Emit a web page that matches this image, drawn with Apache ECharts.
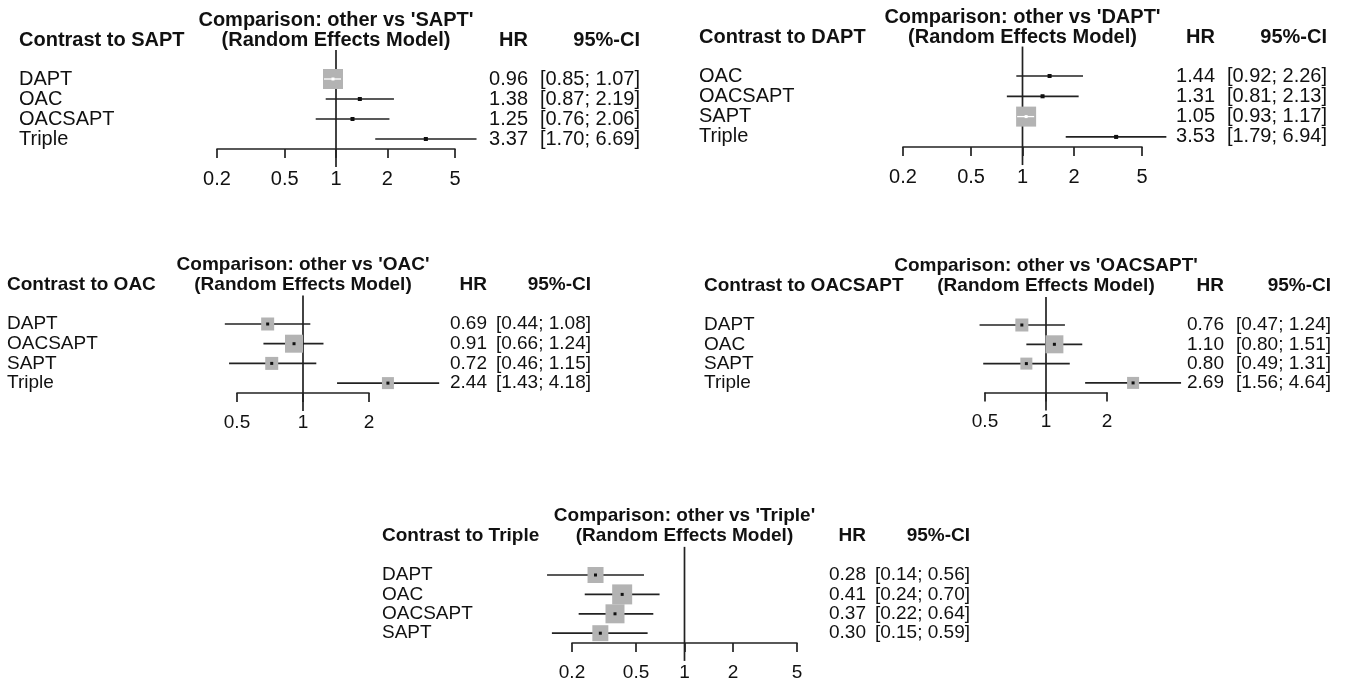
<!DOCTYPE html>
<html>
<head>
<meta charset="utf-8">
<title>Network meta-analysis forest plots</title>
<script src="https://cdn.jsdelivr.net/npm/echarts@6/dist/echarts.min.js"></script>
<style>
  html, body { margin: 0; background: #fff; }
  #chart { width: 1347px; height: 682px; }
</style>
</head>
<body>
<div id="chart"></div>
<script>
// ---- data (HR, 95% CI) per reference treatment ----
var saptNames = ['DAPT', 'OAC', 'OACSAPT', 'Triple'];
var saptHR = [0.96, 1.38, 1.25, 3.37];
var saptLo = [0.85, 0.87, 0.76, 1.70];
var saptHi = [1.07, 2.19, 2.06, 6.69];
var saptBox = [20, 4, 4, 4];

var daptNames = ['OAC', 'OACSAPT', 'SAPT', 'Triple'];
var daptHR = [1.44, 1.31, 1.05, 3.53];
var daptLo = [0.92, 0.81, 0.93, 1.79];
var daptHi = [2.26, 2.13, 1.17, 6.94];
var daptBox = [4, 4, 20, 4];

var oacNames = ['DAPT', 'OACSAPT', 'SAPT', 'Triple'];
var oacHR = [0.69, 0.91, 0.72, 2.44];
var oacLo = [0.44, 0.66, 0.46, 1.43];
var oacHi = [1.08, 1.24, 1.15, 4.18];
var oacBox = [13, 18, 13, 12];

var oacsaptNames = ['DAPT', 'OAC', 'SAPT', 'Triple'];
var oacsaptHR = [0.76, 1.10, 0.80, 2.69];
var oacsaptLo = [0.47, 0.80, 0.49, 1.56];
var oacsaptHi = [1.24, 1.51, 1.31, 4.64];
var oacsaptBox = [13, 18, 12, 12];

var tripleNames = ['DAPT', 'OAC', 'OACSAPT', 'SAPT'];
var tripleHR = [0.28, 0.41, 0.37, 0.30];
var tripleLo = [0.14, 0.24, 0.22, 0.15];
var tripleHi = [0.56, 0.70, 0.64, 0.59];
var tripleBox = [16, 20, 19, 16];

var ticksWide = [0.2, 0.5, 1, 2, 5];
var ticksNarrow = [0.5, 1, 2];
var REF_HR = 1;

// layout of each panel on the page (pixels)
var panels = [
  { ref: 'SAPT', names: saptNames, hr: saptHR, lo: saptLo, hi: saptHi, box: saptBox, ticks: ticksWide,
    L: 217, R: 455, row0: 79, gap: 20, labelX: 19, hrR: 528, ciR: 640, fs: 20 },
  { ref: 'DAPT', names: daptNames, hr: daptHR, lo: daptLo, hi: daptHi, box: daptBox, ticks: ticksWide,
    L: 903, R: 1142, row0: 76, gap: 20.3, labelX: 699, hrR: 1215, ciR: 1327, fs: 20 },
  { ref: 'OAC', names: oacNames, hr: oacHR, lo: oacLo, hi: oacHi, box: oacBox, ticks: ticksNarrow,
    L: 237, R: 369, row0: 324, gap: 19.7, labelX: 7, hrR: 487, ciR: 591, fs: 19 },
  { ref: 'OACSAPT', names: oacsaptNames, hr: oacsaptHR, lo: oacsaptLo, hi: oacsaptHi, box: oacsaptBox, ticks: ticksNarrow,
    L: 985, R: 1107, row0: 325, gap: 19.3, labelX: 704, hrR: 1224, ciR: 1331, fs: 19 },
  { ref: 'Triple', names: tripleNames, hr: tripleHR, lo: tripleLo, hi: tripleHi, box: tripleBox, ticks: ticksWide,
    L: 572, R: 797, row0: 575, gap: 19.4, labelX: 382, hrR: 866, ciR: 970, fs: 19 }
];

var FONT = '"Liberation Sans", Arial, sans-serif';
var INK = '#111';
var LINE = '#222';
var YMIN = -1.45, YMAX = 3.5;

function log10(v) { return Math.log(v) / Math.LN10; }

function renderStudy(params, api) {
  var y = api.value(1);
  var c = api.coord([api.value(0), y]);
  var a = api.coord([api.value(2), y]);
  var b = api.coord([api.value(3), y]);
  var s = api.value(4);
  var inside = (c[0] - a[0] < s / 2) && (b[0] - c[0] < s / 2);
  var kids = [
    { type: 'line', shape: { x1: a[0], y1: c[1], x2: b[0], y2: c[1] }, style: { stroke: LINE, lineWidth: 1.7 } },
    { type: 'rect', shape: { x: c[0] - s / 2, y: c[1] - s / 2, width: s, height: s },
      style: { fill: s > 5 ? '#b3b3b3' : INK } }
  ];
  if (inside) {
    kids.push({ type: 'line', shape: { x1: a[0], y1: c[1], x2: b[0], y2: c[1] }, style: { stroke: '#fff', lineWidth: 1.3 } });
  }
  kids.push({ type: 'rect', shape: { x: c[0] - 1.5, y: c[1] - 1.5, width: 3, height: 3 },
    style: { fill: inside ? '#fff' : INK } });
  return { type: 'group', children: kids };
}

function renderRefLine(params, api) {
  var t = api.coord([api.value(0), api.value(1)]);
  var b = api.coord([api.value(0), api.value(2)]);
  return { type: 'line', shape: { x1: t[0], y1: t[1], x2: b[0], y2: b[1] + 18 },
    style: { stroke: LINE, lineWidth: 1.7 } };
}

function headerText(x, y, text, align, fs) {
  return { type: 'text', x: x, y: y, silent: true,
    style: { text: text, fontSize: fs, fontWeight: 'bold', fontFamily: FONT, fill: INK,
      align: align, verticalAlign: 'middle' } };
}

var option = { animation: false, backgroundColor: '#fff', grid: [], xAxis: [], yAxis: [], series: [], graphic: [] };

panels.forEach(function (p, i) {
  option.grid.push({ left: p.L, top: p.row0 + YMIN * p.gap, width: p.R - p.L, height: (YMAX - YMIN) * p.gap });

  var lg = p.ticks.map(log10);
  option.xAxis.push({
    gridIndex: i, type: 'value', position: 'bottom', min: lg[0], max: lg[lg.length - 1],
    axisLine: { onZero: false, lineStyle: { color: LINE, width: 1.7 } },
    axisTick: { customValues: lg, length: 9, lineStyle: { color: LINE, width: 1.7 } },
    axisLabel: { customValues: lg, margin: 20, fontSize: p.fs, color: INK, fontFamily: FONT,
      showMinLabel: true, showMaxLabel: true, hideOverlap: false,
      formatter: function (v) {
        var best = p.ticks[0];
        p.ticks.forEach(function (t) { if (Math.abs(log10(t) - v) < Math.abs(log10(best) - v)) best = t; });
        return String(best);
      } },
    splitLine: { show: false }
  });

  var rowIdx = p.names.map(function (_, k) { return k; });
  function yAxis(position, margin, align, fmt) {
    return {
      gridIndex: i, type: 'value', position: position, min: YMIN, max: YMAX, inverse: true,
      axisLine: { show: false, onZero: false }, axisTick: { show: false }, splitLine: { show: false },
      axisLabel: { customValues: rowIdx, margin: margin, align: align, fontSize: p.fs, lineHeight: 15,
        color: INK, fontFamily: FONT, showMinLabel: true, showMaxLabel: true, hideOverlap: false,
        formatter: function (v) { return fmt(Math.round(v)); } }
    };
  }
  option.yAxis.push(yAxis('left', p.L - p.labelX, 'left', function (k) { return p.names[k]; }));
  option.yAxis.push(yAxis('right', p.hrR - p.R, 'right', function (k) { return p.hr[k].toFixed(2); }));
  option.yAxis.push(yAxis('right', p.ciR - p.R, 'right', function (k) {
    return '[' + p.lo[k].toFixed(2) + '; ' + p.hi[k].toFixed(2) + ']';
  }));

  option.series.push({
    type: 'custom', xAxisIndex: i, yAxisIndex: 3 * i, clip: false, z: 1,
    encode: { x: 0, y: 1 },
    data: [[log10(REF_HR), YMIN, YMAX]],
    renderItem: renderRefLine
  });
  option.series.push({
    type: 'custom', xAxisIndex: i, yAxisIndex: 3 * i, clip: false, z: 2,
    encode: { x: 0, y: 1 },
    data: p.hr.map(function (v, k) { return [log10(v), k, log10(p.lo[k]), log10(p.hi[k]), p.box[k]]; }),
    renderItem: renderStudy
  });

  var cx = (p.L + p.R) / 2;
  option.graphic.push(headerText(cx, p.row0 - 59, "Comparison: other vs '" + p.ref + "'", 'center', p.fs));
  option.graphic.push(headerText(cx, p.row0 - 39, '(Random Effects Model)', 'center', p.fs));
  option.graphic.push(headerText(p.labelX, p.row0 - 39, 'Contrast to ' + p.ref, 'left', p.fs));
  option.graphic.push(headerText(p.hrR, p.row0 - 39, 'HR', 'right', p.fs));
  option.graphic.push(headerText(p.ciR, p.row0 - 39, '95%-CI', 'right', p.fs));
});

var chart = echarts.init(document.getElementById('chart'));
chart.setOption(option);
</script>
</body>
</html>
